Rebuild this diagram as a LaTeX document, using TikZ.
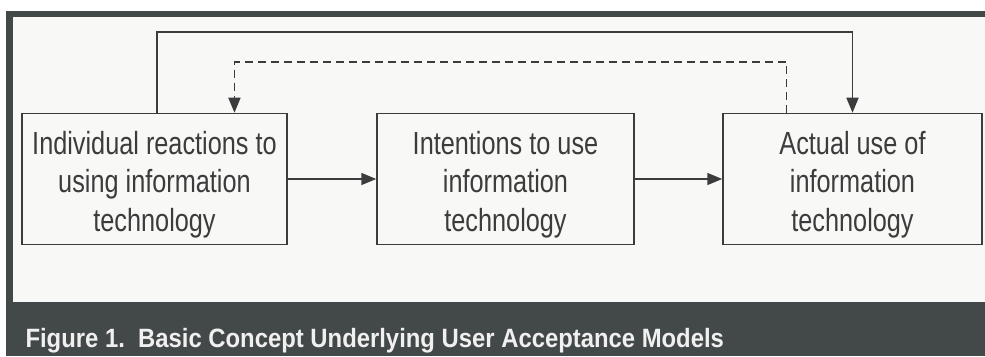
\documentclass[tikz,border=0pt]{standalone}
\usepackage{fontspec}
\setmainfont{Liberation Sans}
\newfontfamily\boxfont[FakeStretch=0.79]{Liberation Sans}
\newfontfamily\capfont[FakeStretch=0.9]{Liberation Sans}
\usetikzlibrary{arrows.meta,calc}
\definecolor{rahmen}{RGB}{67,72,72}
\definecolor{papier}{RGB}{248,249,247}
\definecolor{tinte}{RGB}{60,60,60}
\newcommand\hoch{\rule{0pt}{34pt}}

\begin{document}
\begin{tikzpicture}[x=1pt,y=1pt,>={Triangle[width=12pt,length=15pt]},
  kasten/.style={draw=tinte, line width=1.5pt, minimum height=131pt, inner sep=0pt,
    align=center, text=tinte, font=\boxfont\fontsize{32}{38.5}\selectfont},
  pfeil/.style={->, draw=tinte, line width=1.6pt}]
\useasboundingbox (0,0) rectangle (985,356);

%Rahmen und Hintergrund
\fill[white] (0,0) rectangle (985,356);
\fill[rahmen] (6,0) rectangle (985,345);
\fill[papier] (13,54) rectangle (985,339);

%Kaesten
\node[kasten, minimum width=265pt] (reaktion) at (154.5,177) {\hoch Individual reactions to\\using information\\technology};
\node[kasten, minimum width=257pt] (absicht) at (505.5,177) {\hoch Intentions to use\\information\\technology};
\node[kasten, minimum width=259pt] (nutzung) at (852.5,177) {\hoch Actual use of\\information\\technology};

%Pfeile
\draw[pfeil] (reaktion) to (absicht);
\draw[pfeil] (absicht) to (nutzung);
\draw[pfeil] ($(reaktion.north)+(2.5,0)$) -- ++(0,81) -| (nutzung.north);
\draw[pfeil, dash pattern=on 8pt off 5pt]
  ($(nutzung.north west)!.247!(nutzung.north east)$) -- ++(0,51)
  -| ($(reaktion.north west)!.80!(reaktion.north east)$);

%Bildunterschrift
\node[anchor=base west, text=white!94!black, font=\capfont\bfseries\fontsize{26.5}{30}\selectfont]
  (titel) at (22,9) {Figure 1.\ \ Basic Concept Underlying User Acceptance Models};
\end{tikzpicture}
\end{document}
